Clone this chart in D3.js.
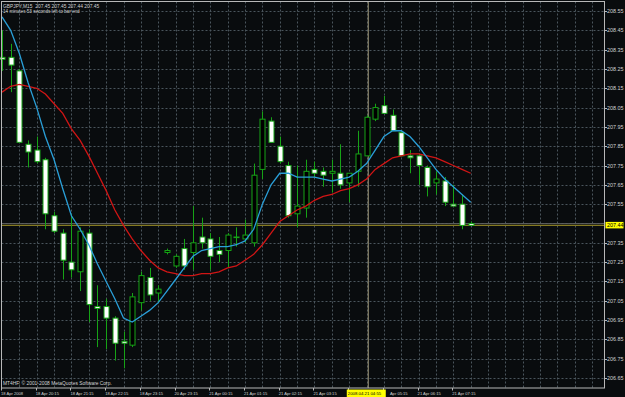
<!DOCTYPE html>
<html>
<head>
<meta charset="utf-8">
<script src="https://cdn.jsdelivr.net/npm/d3@7"></script>
<style>
  html, body { margin: 0; padding: 0; background: #090c0e; }
  svg { display: block; }
  text { font-family: "Liberation Sans", Arial, sans-serif; }
</style>
</head>
<body>
<div id="chart"></div>
<script>
// GBPJPY M15 bars, 18 Apr 19:15 .. 21 Apr 07:45
var opens  = [208.31, 208.31, 208.24, 207.86, 207.83, 207.78, 207.49, 207.40, 207.25, 207.20,
              207.40, 207.02, 207.02, 206.96, 206.84, 206.82, 207.04, 207.17, 207.09, 207.30,
              207.23, 207.32, 207.30, 207.38, 207.37, 207.31, 207.31, 207.38, 207.37, 207.35,
              207.73, 207.98, 207.85, 207.75, 207.50, 207.53, 207.73, 207.72, 207.71, 207.71,
              207.66, 207.72, 207.80, 207.99, 208.06, 208.01, 207.92, 207.80, 207.80, 207.74,
              207.66, 207.67, 207.55, 207.55, 207.45];
var highs  = [208.45, 208.38, 208.25, 207.88, 207.90, 207.79, 207.51, 207.42, 207.50, 207.43,
              207.42, 207.13, 207.06, 206.97, 206.89, 207.09, 207.20, 207.22, 207.13, 207.32,
              207.29, 207.37, 207.54, 207.48, 207.40, 207.38, 207.40, 207.43, 207.47, 207.76,
              208.03, 208.00, 207.90, 207.77, 207.75, 207.78, 207.77, 207.74, 207.78, 207.86,
              207.71, 207.93, 208.01, 208.07, 208.11, 208.04, 207.93, 207.83, 207.81, 207.75,
              207.72, 207.69, 207.65, 207.60, 207.46];
var lows   = [208.24, 208.13, 207.87, 207.74, 207.76, 207.42, 207.40, 207.16, 207.17, 207.10,
              206.94, 206.81, 206.80, 206.74, 206.70, 206.81, 207.00, 207.05, 207.04, 207.29,
              207.22, 207.21, 207.21, 207.32, 207.21, 207.25, 207.22, 207.33, 207.35, 207.33,
              207.68, 207.87, 207.76, 207.48, 207.43, 207.48, 207.69, 207.64, 207.61, 207.63,
              207.56, 207.64, 207.80, 207.98, 208.02, 207.93, 207.80, 207.71, 207.65, 207.59,
              207.60, 207.54, 207.54, 207.42, 207.44];
var closes = [208.30, 208.27, 207.87, 207.82, 207.77, 207.50, 207.41, 207.26, 207.21, 207.41,
              207.03, 207.01, 206.96, 206.83, 206.83, 207.07, 207.18, 207.08, 207.11, 207.31,
              207.28, 207.23, 207.35, 207.35, 207.28, 207.29, 207.39, 207.38, 207.39, 207.70,
              207.99, 207.87, 207.77, 207.49, 207.54, 207.72, 207.71, 207.70, 207.72, 207.65,
              207.71, 207.81, 208.00, 208.05, 208.02, 207.93, 207.80, 207.79, 207.75, 207.64,
              207.68, 207.56, 207.54, 207.44, 207.44];

// moving averages
var maFast = [208.52, 208.45, 208.33, 208.18, 208.05, 207.90, 207.78, 207.63, 207.49, 207.42,
              207.34, 207.24, 207.15, 207.06, 206.96, 206.94, 206.97, 207.00, 207.04, 207.10,
              207.16, 207.22, 207.28, 207.31, 207.32, 207.33, 207.33, 207.34, 207.36, 207.42,
              207.55, 207.65, 207.71, 207.71, 207.69, 207.69, 207.69, 207.68, 207.67, 207.68,
              207.69, 207.72, 207.76, 207.83, 207.90, 207.93, 207.93, 207.90, 207.85, 207.79,
              207.73, 207.68, 207.64, 207.60, 207.56];
var maSlow = [208.13, 208.16, 208.17, 208.16, 208.15, 208.12, 208.07, 208.02, 207.94, 207.88,
              207.80, 207.71, 207.62, 207.52, 207.44, 207.37, 207.31, 207.26, 207.22, 207.20,
              207.19, 207.18, 207.18, 207.19, 207.19, 207.20, 207.22, 207.23, 207.26, 207.29,
              207.34, 207.40, 207.46, 207.49, 207.52, 207.54, 207.57, 207.59, 207.60, 207.62,
              207.63, 207.65, 207.68, 207.73, 207.76, 207.79, 207.80, 207.81, 207.81, 207.80,
              207.79, 207.77, 207.75, 207.73, 207.71];

var priceTicks = [208.55, 208.45, 208.35, 208.25, 208.15, 208.05, 207.95, 207.85, 207.75, 207.65,
                  207.55, 207.35, 207.25, 207.15, 207.05, 206.95, 206.85, 206.75, 206.65];
// 04:15 sits under the cursor box, 05:15 is half covered by it
var timeTickIdx = [0, 4, 8, 12, 16, 20, 24, 28, 32, 36, 40, 44, 48, 52];
var timeTickLabels = ["18 Apr 2008", "18 Apr 20:15", "18 Apr 21:15", "18 Apr 22:15", "18 Apr 23:15",
                      "20 Apr 23:15", "21 Apr 00:15", "21 Apr 01:15", "21 Apr 02:15", "21 Apr 03:15",
                      "", "Apr 05:15", "21 Apr 06:15", "21 Apr 07:15"];

var bidPrice = 207.44;
var cursorIdx = 42.2;
var cursorLabel = "2008.04.21 04:55";
var titleLine = "GBPJPY,M15  207.45 207.45 207.44 207.45";
var timerLine = "14 minutes 53 seconds left to bar end";
var copyright = "MT4HF, \u00a9 2001-2008 MetaQuotes Software Corp.";

var width = 625;
var height = 397;

var plot = { left: 1.5, top: 1.5, right: 604.5, bottom: 388 };

var x = d3.scaleLinear().domain([0, 68]).range([2, 592.2]);
var y = d3.scaleLinear().domain([206.65, 208.55]).range([378, 11]);

var green = "#16a316";
var gridCol = "#4a555c";
var textCol = "#d2d2d2";

var svg = d3.select("#chart")
    .append("svg")
    .attr("width", width)
    .attr("height", height);

svg.append("rect")
    .attr("width", width)
    .attr("height", height)
    .attr("fill", "#090c0e");

// grid
var grid = svg.append("g").attr("class", "grid")
    .attr("stroke", gridCol)
    .attr("stroke-width", 1)
    .attr("stroke-dasharray", "2,2");

grid.selectAll("line.h")
    .data(priceTicks.concat([207.45]))
    .enter().append("line")
    .attr("class", "h")
    .attr("x1", plot.left).attr("x2", plot.right)
    .attr("y1", function(d) { return Math.round(y(d)) + 0.5; })
    .attr("y2", function(d) { return Math.round(y(d)) + 0.5; });

grid.selectAll("line.v")
    .data(d3.range(2, 69, 2))
    .enter().append("line")
    .attr("class", "v")
    .attr("y1", plot.top).attr("y2", plot.bottom)
    .attr("x1", function(d) { return Math.round(x(d)) + 0.5; })
    .attr("x2", function(d) { return Math.round(x(d)) + 0.5; });

// bid line
svg.append("line")
    .attr("x1", plot.left).attr("x2", plot.right)
    .attr("y1", y(bidPrice) - 1.8).attr("y2", y(bidPrice) - 1.8)
    .attr("stroke", "#5d6062").attr("stroke-width", 1);
svg.append("line")
    .attr("x1", plot.left).attr("x2", plot.right)
    .attr("y1", y(bidPrice)).attr("y2", y(bidPrice))
    .attr("stroke", "#857a22").attr("stroke-width", 1.4);

// cursor line
svg.append("line")
    .attr("x1", x(cursorIdx)).attr("x2", x(cursorIdx))
    .attr("y1", plot.top).attr("y2", plot.bottom)
    .attr("stroke", "#9e977a").attr("stroke-width", 1);

// candles
var bars = d3.range(opens.length).map(function(i) {
    return { i: i, o: opens[i], h: highs[i], l: lows[i], c: closes[i] };
});

var candle = svg.append("g").attr("class", "candles")
    .selectAll("g")
    .data(bars)
    .enter().append("g");

candle.append("line")
    .attr("x1", function(d) { return Math.round(x(d.i)) + 0.5; })
    .attr("x2", function(d) { return Math.round(x(d.i)) + 0.5; })
    .attr("y1", function(d) { return y(d.h); })
    .attr("y2", function(d) { return y(d.l); })
    .attr("stroke", green)
    .attr("stroke-width", 1);

candle.append("rect")
    .attr("x", function(d) { return Math.round(x(d.i)) - 2; })
    .attr("width", 5)
    .attr("y", function(d) { return y(Math.max(d.o, d.c)); })
    .attr("height", function(d) { return Math.max(0.6, Math.abs(y(d.o) - y(d.c))); })
    .attr("fill", function(d) { return d.c < d.o ? "#ffffff" : "#000000"; })
    .attr("stroke", green)
    .attr("stroke-width", 1);

// moving averages
var line = d3.line()
    .x(function(d, i) { return x(i); })
    .y(function(d) { return y(d); });

svg.append("path")
    .datum(maSlow)
    .attr("d", line)
    .attr("fill", "none")
    .attr("stroke", "#d01515")
    .attr("stroke-width", 1.3);

svg.append("path")
    .datum(maFast)
    .attr("d", line)
    .attr("fill", "none")
    .attr("stroke", "#2a9fd8")
    .attr("stroke-width", 1.3);

// frame
svg.append("rect")
    .attr("x", plot.left).attr("y", plot.top)
    .attr("width", plot.right - plot.left)
    .attr("height", plot.bottom - plot.top)
    .attr("fill", "none")
    .attr("stroke", "#b8b8b8")
    .attr("stroke-width", 1);

// price axis
var pAxis = svg.append("g").attr("class", "price-axis");
pAxis.selectAll("line")
    .data(priceTicks)
    .enter().append("line")
    .attr("x1", plot.right).attr("x2", plot.right + 2.5)
    .attr("y1", function(d) { return Math.round(y(d)) + 0.5; })
    .attr("y2", function(d) { return Math.round(y(d)) + 0.5; })
    .attr("stroke", "#b8b8b8");
pAxis.selectAll("text")
    .data(priceTicks)
    .enter().append("text")
    .attr("x", 607)
    .attr("y", function(d) { return y(d) + 2; })
    .attr("font-size", 5.4)
    .attr("fill", textCol)
    .text(function(d) { return d.toFixed(2); });

// bid label
svg.append("rect")
    .attr("x", 605.5).attr("y", y(bidPrice) - 3.5)
    .attr("width", 18).attr("height", 6.5)
    .attr("fill", "#ffff00");
svg.append("text")
    .attr("x", 607).attr("y", y(bidPrice) + 2)
    .attr("font-size", 5.4)
    .attr("fill", "#000")
    .text(bidPrice.toFixed(2));

// time axis
var tAxis = svg.append("g").attr("class", "time-axis");
tAxis.selectAll("line")
    .data(timeTickIdx)
    .enter().append("line")
    .attr("x1", function(d) { return Math.round(x(d)) - 0.5; })
    .attr("x2", function(d) { return Math.round(x(d)) - 0.5; })
    .attr("y1", plot.bottom).attr("y2", plot.bottom + 2.5)
    .attr("stroke", "#b8b8b8");
tAxis.selectAll("text")
    .data(timeTickIdx)
    .enter().append("text")
    .attr("x", function(d, i) {
        // the half-hidden label only shows the part right of the cursor box
        return timeTickLabels[i].length < 12 && i > 0 ? x(d) + 6 : x(d) - 1;
    })
    .attr("y", 395)
    .attr("font-size", 4.1)
    .attr("fill", textCol)
    .text(function(d, i) { return timeTickLabels[i]; });

// cursor time label
svg.append("rect")
    .attr("x", x(cursorIdx) - 21.5).attr("y", 389.5)
    .attr("width", 39).attr("height", 7.5)
    .attr("fill", "#ffff00");
svg.append("text")
    .attr("x", x(cursorIdx) - 20.5).attr("y", 395)
    .attr("font-size", 4.3)
    .attr("fill", "#000")
    .text(cursorLabel);

// header / footer
svg.append("text")
    .attr("x", 3).attr("y", 7.5)
    .attr("font-size", 4.9)
    .attr("fill", textCol)
    .attr("xml:space", "preserve")
    .text(titleLine);
svg.append("text")
    .attr("x", 3).attr("y", 12.8)
    .attr("font-size", 4.6)
    .attr("fill", textCol)
    .text(timerLine);
svg.append("text")
    .attr("x", 3).attr("y", 385)
    .attr("font-size", 4.9)
    .attr("fill", textCol)
    .text(copyright);
</script>
</body>
</html>
